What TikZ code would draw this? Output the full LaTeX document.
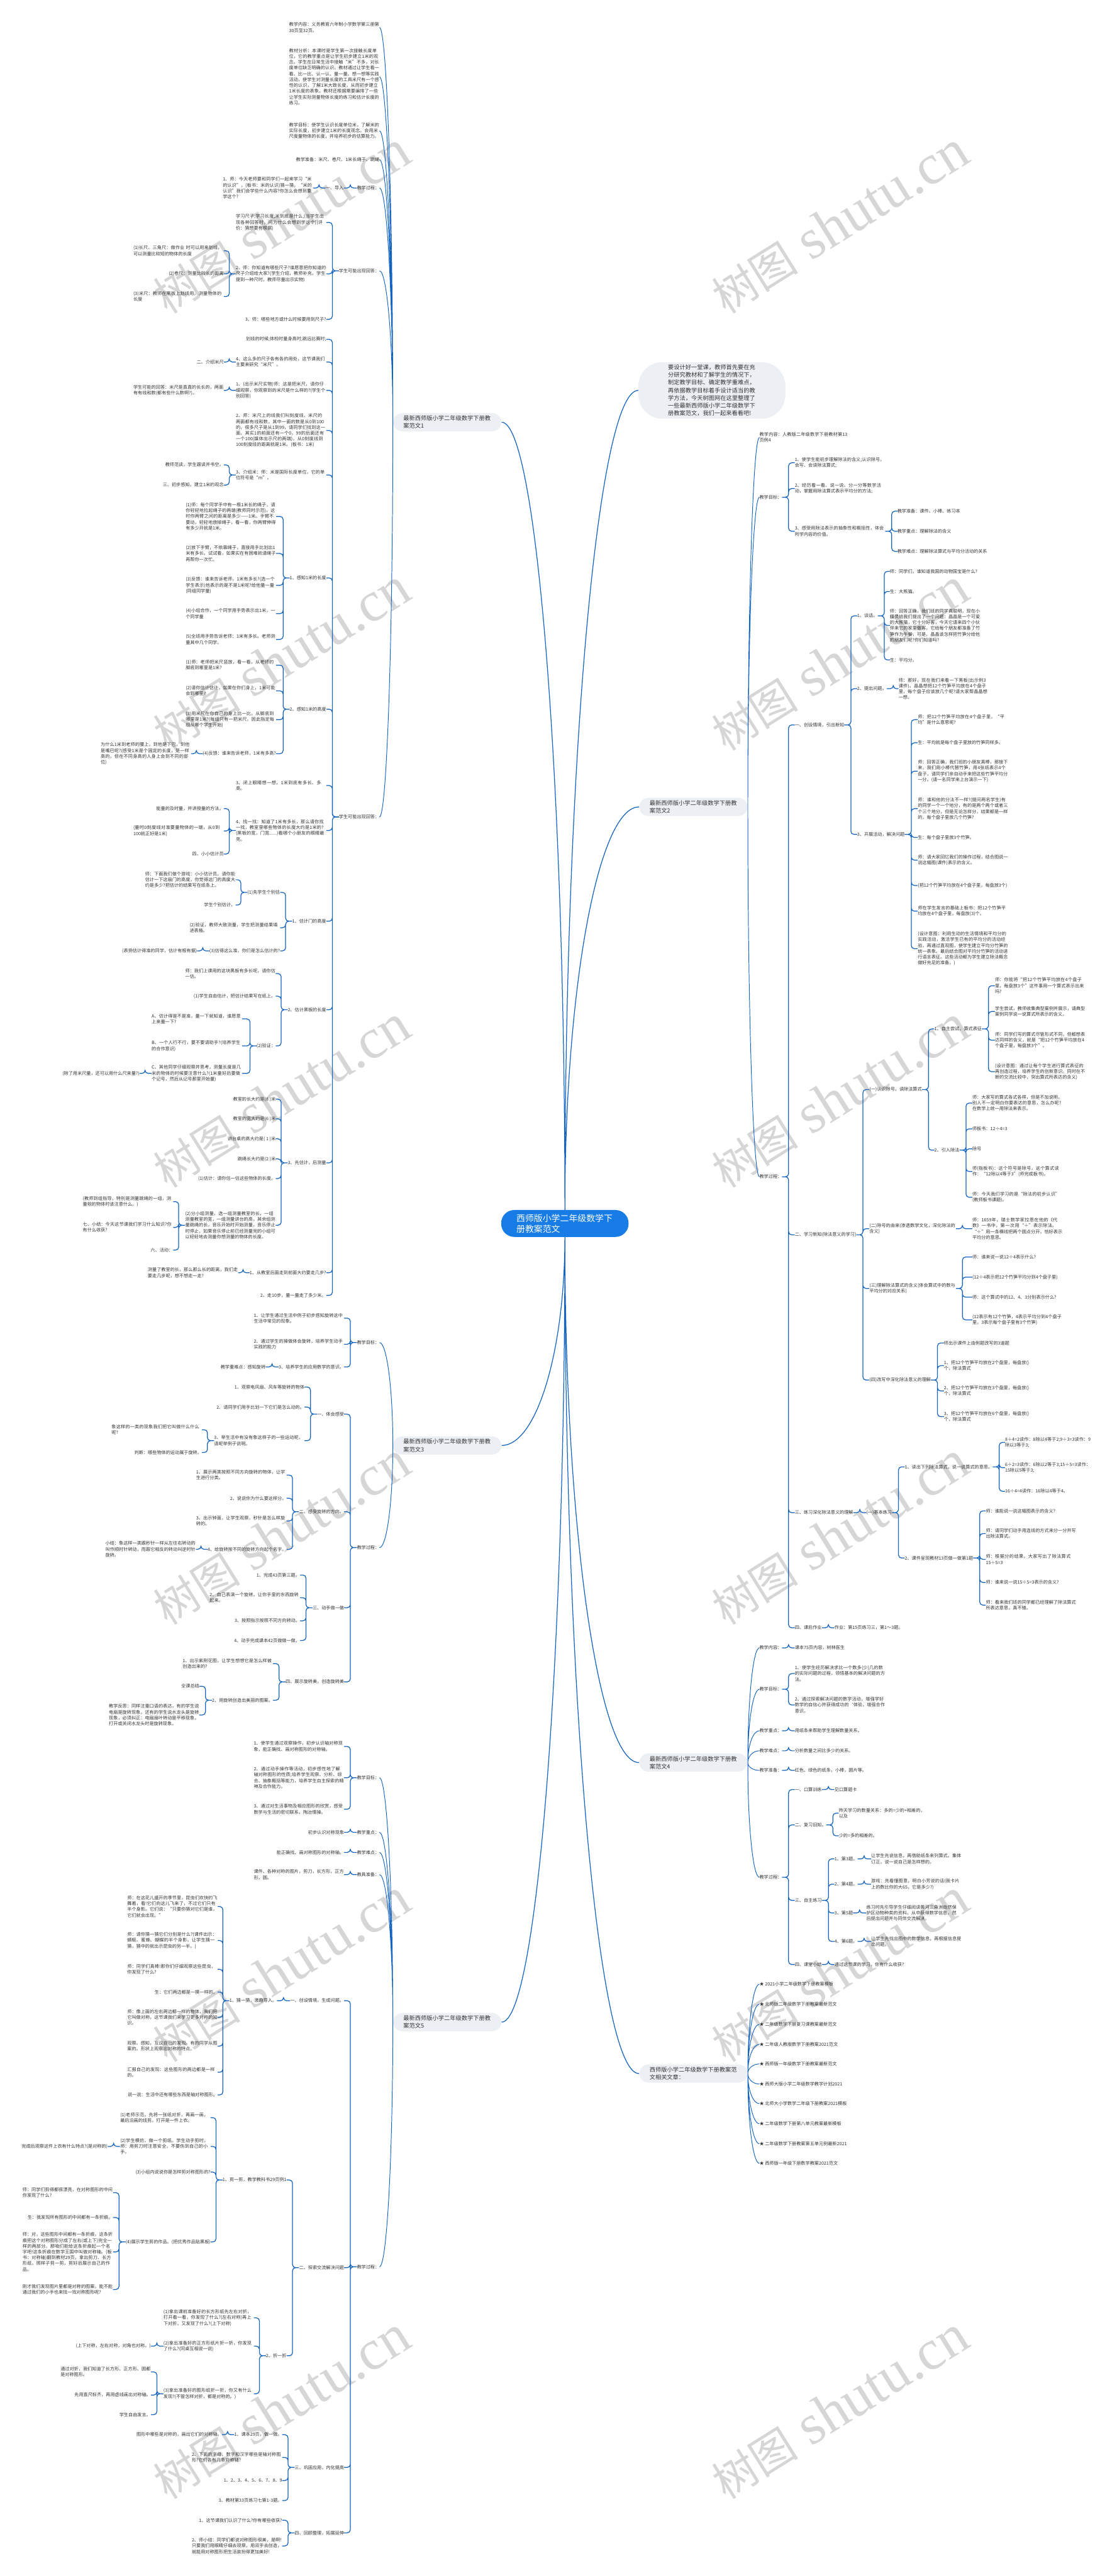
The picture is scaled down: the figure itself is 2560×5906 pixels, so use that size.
\documentclass[tikz,border=0pt]{standalone}
\usepackage{fontspec}
\setmainfont{Noto Sans CJK SC}
\newfontfamily\wmlatin{Liberation Serif}
\XeTeXlinebreaklocale "zh"
\XeTeXlinebreakskip = 0pt plus 1pt
\usetikzlibrary{calc}
\definecolor{lineblue}{RGB}{21,101,192}
\definecolor{rootblue}{RGB}{24,124,230}
\definecolor{topicgray}{RGB}{236,240,245}
\definecolor{ink}{RGB}{51,51,51}
\definecolor{wmgray}{RGB}{214,214,214}
\tikzset{
  root/.style={fill=rootblue, text=white, rounded corners=30pt, align=left, text width=222pt, inner xsep=35pt, inner ysep=9pt, font=\fontsize{20}{25}\selectfont},
  topic/.style={fill=topicgray, text=ink, rounded corners=22pt, align=left, text width=201pt, inner xsep=24pt, inner ysep=6pt, font=\fontsize{13.3}{17.5}\selectfont},
  intro/.style={topic, rounded corners=55pt, inner xsep=68pt, inner ysep=6pt},
  note/.style={text=ink, inner sep=0pt, font=\fontsize{10.3}{13.3}\selectfont},
  lnote/.style={note, anchor=east}, rnote/.style={note, anchor=west},
  lpara/.style={lnote, text width=207pt, align=left},
  rpara/.style={rnote, text width=207pt, align=left},
  limb/.style={draw=lineblue, line width=1.4pt, to path={.. controls ($(\tikztostart)!0.55!(\tikztostart|-\tikztotarget)$) and ($(\tikztotarget)!0.55!(\tikztostart|-\tikztotarget)$) .. (\tikztotarget)}},
  trunk/.style={limb, line width=1.8pt},
  lbr/.style={draw=lineblue, line width=1.8pt, rounded corners=7pt, to path={-- ($(\tikztostart)+(-15,0)$) |- (\tikztotarget)}},
  rbr/.style={draw=lineblue, line width=1.8pt, rounded corners=7pt, to path={-- ($(\tikztostart)+(15,0)$) |- (\tikztotarget)}},
  wmark/.style={text=wmgray, rotate=32, inner sep=0pt},
}
\newcommand{\wmtext}{{\fontsize{100}{100}\selectfont 树图}\hspace{30pt}{\wmlatin\fontsize{130}{130}\selectfont shutu.cn}}

\begin{document}
\begin{tikzpicture}[x=1pt, y=-1pt]
    \useasboundingbox (0,0) rectangle (2560,5906);
    \fill[white] (0,0) rectangle (2560,5906);
    \node[wmark] (wm1) at (645,510) {\wmtext};
    \node[wmark] (wm2) at (1925,510) {\wmtext};
    \node[wmark] (wm3) at (645,1512) {\wmtext};
    \node[wmark] (wm4) at (1925,1512) {\wmtext};
    \node[wmark] (wm5) at (645,2514) {\wmtext};
    \node[wmark] (wm6) at (1925,2514) {\wmtext};
    \node[wmark] (wm7) at (645,3516) {\wmtext};
    \node[wmark] (wm8) at (1925,3516) {\wmtext};
    \node[wmark] (wm9) at (645,4518) {\wmtext};
    \node[wmark] (wm10) at (1925,4518) {\wmtext};
    \node[wmark] (wm11) at (645,5520) {\wmtext};
    \node[wmark] (wm12) at (1925,5520) {\wmtext};

    \node[root] (root) at (1295,2805) {西师版小学二年级数学下册教案范文};
    \node[intro] (intro) at (1632,895) {要设计好一堂课，教师首先要在充分研究教材和了解学生的情况下，制定教学目标、确定教学重难点，再依据教学目标着手设计适当的教学方法，今天树图网在这里整理了一些最新西师版小学二年级数学下册教案范文，我们一起来看看吧!};
    \node[topic, anchor=east] (f1) at (1150,968) {最新西师版小学二年级数学下册教案范文1};
    \node[topic, anchor=west] (f2) at (1465,1850) {最新西师版小学二年级数学下册教案范文2};
    \node[topic, anchor=east] (f3) at (1150,3314) {最新西师版小学二年级数学下册教案范文3};
    \node[topic, anchor=west] (f4) at (1465,4041) {最新西师版小学二年级数学下册教案范文4};
    \node[topic, anchor=east] (f5) at (1150,4636) {最新西师版小学二年级数学下册教案范文5};
    \node[topic, anchor=west] (rel) at (1465,4754) {西师版小学二年级数学下册教案范文相关文章：};

    \node[lpara] (f1a) at (870,63) {教学内容：义务教育六年制小学数学第三册第30页至32页。};
    \node[lpara] (f1b) at (870,176) {教材分析：本课时是学生第一次接触长度单位，它的教学重点是让学生初步建立1米的观念。学生在日常生活中接触“米”不多，对长度单位缺乏明确的认识。教材通过让学生看一看、比一比、认一认、量一量、想一想等实践活动，使学生对测量长度的工具米尺有一个感性的认识，了解1米大致长度，从而初步建立1米长度的表象。教材还根据需要编排了一些让学生实际测量物体长度的练习和估计长度的练习。};
    \node[lpara] (f1c) at (870,300) {教学目标：使学生认识长度单位米，了解米的实际长度，初步建立1米的长度观念。会用米尺度量物体的长度，并培养初步的估算能力。};
    \node[lnote] (f1d) at (870,366) {教学准备：米尺、卷尺、1米长绳子、跳绳};
    \node[lnote] (f1e) at (870,431) {教学过程：};
    \node[lnote] (f1e1) at (788,431) {一、导入};
    \node[lpara] (f1e1a) at (718,431) {1、师：今天老师要和同学们一起来学习“米的认识”，(板书：米的认识)猜一猜，“米的认识”我们会学些什么内容?你怎么会想到要学这个?};
    \node[lnote] (f1f) at (870,621) {学生可能出现回答：};
    \node[lpara] (f1f1) at (748,510) {学习尺子;学习长度;米到底是什么;(当学生出现各种回答时，问为什么会想到学这个)(评价：猜想要有根据)};
    \node[lpara] (f1f2) at (748,628) {2、师：你知道有哪些尺子?谁愿意把你知道的尺子介绍给大家?(学生介绍，教师补充，学生提到一种尺时，教师尽量出示实物)};
    \node[lpara] (f1f2a) at (513,575) {(1)长尺、三角尺：做作业 时可以用来划线，可以测量比较短的物体的长度};
    \node[lnote] (f1f2b) at (513,628) {(2)卷尺：测量比较长的距离};
    \node[lpara] (f1f2c) at (513,680) {(3)米尺：教师在黑板上划线用，测量物体的长度};
    \node[lnote] (f1f3) at (748,732) {3、师：哪些地方或什么时候要用到尺子?};
    \node[lnote] (f1g) at (870,1873) {学生可能出现回答：};
    \node[lnote] (f1g1) at (748,778) {划线的时候;体检时量身高时;跳远比赛时;};
    \node[lpara] (f1g2) at (748,830) {4、这么多的尺子各有各的用处，这节课我们主要来研究“米尺”。};
    \node[lnote] (f1g2a) at (513,830) {二、介绍米尺};
    \node[lpara] (f1g3) at (748,895) {1、(出示米尺实物)师：这是把米尺，请你仔细观察，你观察到的米尺是什么样的?(学生个别回答)};
    \node[lpara] (f1g3a) at (513,895) {学生可能的回答：米尺是直直的长长的，两面有有线和数(都有些什么数啊?)。};
    \node[lpara] (f1g4) at (748,987) {2、师：米尺上的线我们叫刻度线，米尺的两面都有线和数，其中一面的数是从0到100的，很多尺子是从1到99，请同学们找到这一面，其实1的前面还有一个0，99的后面还有一个100(媒体出示尺的两端)，从0刻度线到100刻度线的距离就是1米。(板书：1米)};
    \node[lpara] (f1g5) at (748,1089) {3、介绍米：师：米是国际长度单位，它的单位符号是“m”。};
    \node[lnote] (f1g5a) at (513,1066) {教师范读，学生跟读并书空。};
    \node[lnote] (f1g5b) at (513,1112) {三、初步感知，建立1米的观念};
    \node[lnote] (f1g6) at (748,1325) {1、感知1米的长度};
    \node[lpara] (f1g6a) at (633,1184) {(1)师：每个同学手中有一根1米长的绳子，请你轻轻地拉起绳子的两端(教师同时示范)，这时你两臂之间的距离是多少——1米。手臂不要动，轻轻地放掉绳子，看一看，你两臂伸得有多少开就是1米。};
    \node[lpara] (f1g6b) at (633,1269) {(2)放下手臂，不依靠绳子，直接用手比划出1米有多长。试试看，如果实在有困难就请绳子再帮你一次忙。};
    \node[lpara] (f1g6c) at (633,1342) {(3)反馈：谁来告诉老师，1米有多长?(选一个学生表示)他表示的是不是1米呢?给他量一量(同组同学量)};
    \node[lpara] (f1g6d) at (633,1407) {(4)小组合作，一个同学用手势表示出1米，一个同学量};
    \node[lpara] (f1g6e) at (633,1466) {(5)全班用手势告诉老师：1米有多长。老师测量其中几个同学。};
    \node[lnote] (f1g7) at (748,1626) {2、感知1米的高度};
    \node[lpara] (f1g7a) at (633,1525) {(1)师：老师把米尺竖放，看一看，从老师的脚底到哪里是1米?};
    \node[lpara] (f1g7b) at (633,1584) {(2)请你估计估计，如果在你们身上，1米可能会到哪里?};
    \node[lpara] (f1g7c) at (633,1650) {(3)用米尺在你自己的身上比一比，从脚底到哪里是1米?(每组只有一把米尺，因此指定每组从哪个学生开始)};
    \node[lnote] (f1g7d) at (633,1728) {(4)反馈：谁来告诉老师，1米有多高?};
    \node[lpara] (f1g7d1) at (438,1728) {为什么1米到老师的腰上，到他是下巴，到他是嘴巴呢?(感受1米是个固定的长度，是一样高的，但在不同身高的人身上会到不同的部位)};
    \node[lpara] (f1g8) at (748,1801) {3、闭上眼睛想一想，1米到底有多长、多高。};
    \node[lpara] (f1g9) at (748,1904) {4、找一找：知道了1米有多长，那么请你找一找，教室里哪些物体的长度大约是1米的?(黑板的宽，门宽......)看哪个小朋友的眼睛最亮。};
    \node[lnote] (f1g9a) at (513,1854) {能量的及时量，并讲授量的方法。};
    \node[lpara] (f1g9b) at (513,1905) {(量时0刻度线对准要量物体的一端，从0到100就正好是1米)};
    \node[lnote] (f1g9c) at (513,1958) {四、小小估计员};
    \node[lnote] (f1g10) at (748,2112) {1、估计门的高度};
    \node[lnote] (f1g10a) at (642,2046) {(1)先学生个别估};
    \node[lpara] (f1g10a1) at (540,2017) {师：下面我们做个游戏：小小估计员。请你能估计一下这扇门的高度，你觉得这门的高度大约是多少?把估计的结果写在纸条上。};
    \node[lnote] (f1g10a2) at (540,2075) {学生个别估计。};
    \node[lpara] (f1g10b) at (642,2127) {(2)验证，教师大致测量，学生把测量结果填进表格。};
    \node[lnote] (f1g10c) at (642,2180) {(3)估得这么准，你们是怎么估计的?};
    \node[lnote] (f1g10c1) at (452,2180) {(表扬估计得准的同学，估计有根有据)};
    \node[lnote] (f1g11) at (748,2315) {2、估计黑板的长度};
    \node[lpara] (f1g11a) at (632,2232) {师：我们上课用的这块黑板有多长呢，请你估一估。};
    \node[lnote] (f1g11b) at (632,2284) {(1)学生自由估计，把估计结果写在纸上。};
    \node[lnote] (f1g11c) at (632,2398) {(2)验证：};
    \node[lpara] (f1g11c1) at (555,2336) {A、估计得是不是准，量一下就知道，谁愿意上来量一下?};
    \node[lpara] (f1g11c2) at (555,2398) {B、一个人行不行，要不要请助手?(培养学生的合作意识)};
    \node[lpara] (f1g11c3) at (555,2461) {C、其他同学仔细观察并思考，测量长度是几米的物体的时候要注意什么?(1米量好后要做个记号，然后从记号那里开始量)};
    \node[lnote] (f1g11c3a) at (320,2461) {(除了用米尺量，还可以用什么尺来量?)};
    \node[lnote] (f1g12) at (748,2666) {3、先估计，后测量};
    \node[lnote] (f1g12a) at (632,2520) {教室的长大约是(8 )米};
    \node[lnote] (f1g12b) at (632,2565) {教室的宽大约是(6 )米};
    \node[lnote] (f1g12c) at (632,2611) {讲台桌的高大约是( 1 )米};
    \node[lnote] (f1g12d) at (632,2657) {跳绳长大约是(2 )米};
    \node[lnote] (f1g12e) at (632,2702) {(1)估计：请你估一估这些物体的长度。};
    \node[lpara] (f1g12f) at (632,2809) {(2)分小组测量，选一组测量教室的长，一组测量教室的宽，一组测量讲台的高，其余组测量跳绳的长，音乐开始时开始测量，音乐停止时停止，如果音乐停止前已经测量完的小组可以轻轻地去测量你想测量的物体的长度。};
    \node[lpara] (f1g12f1) at (397,2755) {(教师到组指导，特别是测量跳绳的一组，测量软的物体时该注意什么。)};
    \node[lpara] (f1g12f2) at (397,2814) {七、小结：今天这节课我们学习什么知识?你有什么收获?};
    \node[lnote] (f1g12f3) at (397,2866) {六、活动：};
    \node[lnote] (f1g13) at (748,2918) {1、从教室后面走到前面大约要走几步?};
    \node[lpara] (f1g13a) at (546,2918) {测量了教室的长，那么那么长的距离，我们走要走几步呢，想不想走一走?};
    \node[lnote] (f1g14) at (748,2970) {2、走10步，量一量走了多少米。};

    \node[lnote] (f3a) at (870,3078) {教学目标：};
    \node[lpara] (f3a1) at (789,3022) {1、让学生通过生活中例子初步感知旋转这中生活中常见的现象。};
    \node[lpara] (f3a2) at (789,3082) {2、通过学生的操做体会旋转，培养学生动手实践的能力};
    \node[lnote] (f3a3) at (789,3134) {3、培养学生的应用数学的意识。};
    \node[lnote] (f3a3a) at (609,3134) {教学重难点：感知旋转};
    \node[lnote] (f3b) at (870,3548) {教学过程：};
    \node[lnote] (f3b1) at (789,3242) {一、体会感受};
    \node[lnote] (f3b1a) at (698,3180) {1、观察电风扇、风车等旋转的物体};
    \node[lnote] (f3b1b) at (698,3226) {2、请同学们用手比划一下它们是怎么动的。};
    \node[lpara] (f3b1c) at (698,3303) {3、举生活中有没有象这样子的一些运动呢，请呢举例子说明。};
    \node[lpara] (f3b1c1) at (463,3278) {象这样的一类的现象我们把它叫做什么什么呢?};
    \node[lnote] (f3b1c2) at (463,3330) {判断：哪些物体的运动属于旋转。};
    \node[lnote] (f3b2) at (789,3466) {二、感受旋转的方向。};
    \node[lpara] (f3b2a) at (657,3382) {1、展示两类按照不同方向旋转的物体，让学生进行分类。};
    \node[lnote] (f3b2b) at (657,3435) {2、说说你为什么要这样分。};
    \node[lpara] (f3b2c) at (657,3487) {3、出示钟面，让学生观察，秒针是怎么样旋转的。};
    \node[lnote] (f3b2d) at (657,3552) {4、给旋转按不同的旋转方向起个名字。};
    \node[lpara] (f3b2d1) at (449,3552) {小结：象这样一类跟秒针一样从左往右转动的叫作顺时针转动，而跟它相反的转动叫逆时针旋转。};
    \node[lnote] (f3b3) at (789,3686) {三、动手做一做};
    \node[lnote] (f3b3a) at (688,3611) {1、完成43页第三题。};
    \node[lpara] (f3b3b) at (688,3663) {2、自己表演一个旋转。让你手里的东西旋转起来。};
    \node[lnote] (f3b3c) at (688,3716) {3、按照指示按照不同方向转动。};
    \node[lnote] (f3b3d) at (688,3761) {4、动手完成课本42页做做一做。};
    \node[lnote] (f3b4) at (789,3856) {四、展示旋转美，创造旋转美};
    \node[lpara] (f3b4a) at (626,3814) {1、出示紫荆花图，让学生想想它是怎么样被创造出来的?};
    \node[lnote] (f3b4b) at (626,3898) {2、用旋转创造出美丽的图案。};
    \node[lnote] (f3b4b1) at (457,3866) {全课总结};
    \node[lpara] (f3b4b2) at (457,3932) {教学反思：同样注重口语的表达，有的学生说电扇是旋转现象，还有的学生说水龙头是旋转现象，必须纠正：电扇扇叶转动是平移现象，打开或关闭水龙头时是旋转现象。};

    \node[lnote] (f5a) at (870,4076) {教学目标：};
    \node[lpara] (f5a1) at (789,4004) {1、使学生通过观察操作，初步认识轴对称现象，能正确找、画对称图形的对称轴。};
    \node[lpara] (f5a2) at (789,4076) {2、通过动手操作等活动，初步感性地了解轴对称图形的性质;培养学生观察、分析、综合、抽象概括等能力，培养学生自主探索的精神及合作能力。};
    \node[lpara] (f5a3) at (789,4148) {3、通过对生活事物及相应图形的欣赏，感受数学与生活的密切联系，陶冶情操。};
    \node[lnote] (f5b) at (870,4201) {教学重点：};
    \node[lnote] (f5b1) at (789,4201) {初步认识对称现象};
    \node[lnote] (f5c) at (870,4247) {教学难点：};
    \node[lnote] (f5c1) at (789,4247) {能正确找、画对称图形的对称轴。};
    \node[lnote] (f5d) at (870,4298) {教具准备：};
    \node[lpara] (f5d1) at (789,4298) {课件、各种对称的图片，剪刀，长方形，正方形，圆。};
    \node[lnote] (f5e) at (870,5197) {教学过程：};
    \node[lnote] (f5e1) at (789,4587) {一、创设情境，生成问题。};
    \node[lnote] (f5e1a) at (635,4587) {1、猜一猜，激趣导入。};
    \node[lpara] (f5e1a1) at (499,4371) {师：在这花儿盛开的季节里，昆虫们欢快的飞舞着，看!它们向这儿飞来了，不过它们只有半个身影。它们说：“只要你猜对它们是谁，它们就会出现。”};
    \node[lpara] (f5e1a2) at (499,4449) {师：请你猜一猜它们分别是什么?(课件出示：蜻蜓、蜜蜂、蝴蝶的半个身影，让学生猜一猜，猜中的就出示昆虫的另一半。)};
    \node[lpara] (f5e1a3) at (499,4515) {师：同学们真棒!那你们仔细观察这些昆虫，你发现了什么?};
    \node[lnote] (f5e1a4) at (499,4567) {生：它们两边都是一摸一样的。};
    \node[lpara] (f5e1a5) at (499,4625) {师：像上面的左右两边都一样的物体，我们把它叫做对称，这节课我们来学习更多对称的知识。};
    \node[lpara] (f5e1a6) at (499,4691) {观察、感知，互议自己的发现。有的同学从图案的。形状上观察出对称的特点。};
    \node[lpara] (f5e1a7) at (499,4751) {汇报自己的发现：这些图形的两边都是一样的。};
    \node[lnote] (f5e1a8) at (499,4803) {说一说：生活中还有哪些东西是轴对称图形。};
    \node[lnote] (f5e2) at (789,5199) {二、探索交流解决问题};
    \node[lnote] (f5e2a) at (657,4998) {1、剪一剪，教学教科书29页例1};
    \node[lpara] (f5e2a1) at (483,4855) {(1)老师示范，先将一张纸对折，再画一画，最后沿画的线剪。打开是一件上衣。};
    \node[lpara] (f5e2a2) at (483,4921) {(2)学生模仿，做一个剪纸。学生动手剪时，师：用剪刀时注意安全，不要伤到自己的小手。};
    \node[lnote] (f5e2a2a) at (247,4921) {完成后观察这件上衣有什么特点?(是对称的)};
    \node[lnote] (f5e2a3) at (483,4980) {(3)小组内说说你是怎样剪对称图形的?};
    \node[lnote] (f5e2a4) at (483,5140) {(4)展示学生剪的作品。(把优秀作品贴黑板)};
    \node[lpara] (f5e2a4a) at (259,5027) {师：同学们剪得都很漂亮，在对称图形的中间你发现了什么?};
    \node[lnote] (f5e2a4b) at (259,5084) {生：我发现所有图形的中间都有一条折痕。};
    \node[lpara] (f5e2a4c) at (259,5163) {师：对，这些图形中间都有一条折痕，这条折痕把这个对称图形分成了左右(或上下)完全一样的两部分。那咱们能给这条折痕起一个名字吧!这条折痕在数学王国中叫做对称轴。(板书：对称轴)翻到教材29页，拿出剪刀、长方形纸，照样子剪一剪，剪好后展示自己的作品。};
    \node[lpara] (f5e2a4d) at (259,5249) {刚才我们发现图片里都是对称的图案，能不能通过我们的小手也来找一找对称图形呢?};
    \node[lnote] (f5e2b) at (657,5401) {2、折一折};
    \node[lpara] (f5e2b1) at (582,5314) {(1)拿出课前准备好的长方形纸先左右对折，打开看一看，你发现了什么?(左右对称)再上下对折，又发现了什么?(上下对称)};
    \node[lpara] (f5e2b2) at (582,5379) {(2)拿出准备好的正方形纸片折一折，你发现了什么?(同桌互相说一说)};
    \node[lnote] (f5e2b2a) at (346,5379) {(上下对称，左右对称，对角也对称。)};
    \node[lpara] (f5e2b3) at (582,5488) {(3)拿出准备好的图形纸折一折，你又有什么发现?(不管怎样对折，都是对称的。)};
    \node[lpara] (f5e2b3a) at (346,5438) {通过对折，我们知道了长方形、正方形、圆都是对称图形。};
    \node[lnote] (f5e2b3b) at (346,5491) {先用直尺标齐，再用虚线画出对称轴。};
    \node[lnote] (f5e2b3c) at (346,5536) {学生自由发言。};
    \node[lnote] (f5e3) at (789,5657) {三、巩固应用，内化提高};
    \node[lnote] (f5e3a) at (647,5582) {1、课本29页，做一做。};
    \node[lnote] (f5e3a1) at (509,5582) {图形中哪些是对称的，画出它们的对称轴。};
    \node[lpara] (f5e3b) at (647,5634) {2、下面的字母、数字和汉字哪些是轴对称图形?它们各有几条对称轴?};
    \node[lnote] (f5e3c) at (647,5687) {1、2、3、4、5、6、7、8、9};
    \node[lnote] (f5e3d) at (647,5733) {3、教材第33页练习七第1-3题。};
    \node[lnote] (f5e4) at (789,5807) {四、回顾整理，拓展延伸};
    \node[lnote] (f5e4a) at (647,5778) {1、这节课我们认识了什么?你有哪些收获?};
    \node[lpara] (f5e4b) at (647,5837) {2、师小结：同学们都说对称图形很美，是啊!只要我们用眼睛仔细去观察，用双手去创造，就能用对称图形把生活装扮得更加美好!};

    \node[rpara] (f2a) at (1741,1003) {教学内容：人教版二年级数学下册教材第13页例4};
    \node[rnote] (f2b) at (1741,1140) {教学目标：};
    \node[rpara] (f2b1) at (1822,1061) {1、使学生能初步理解除法的含义;认识除号，会写、会读除法算式;};
    \node[rpara] (f2b2) at (1822,1120) {2、经历看一看、说一说、分一分等数学活动，掌握用除法算式表示平均分的方法;};
    \node[rpara] (f2b3) at (1822,1218) {3、感受用除法表示的抽象性和概括性，体会所学内容的价值。};
    \node[rnote] (f2b3a) at (2057,1172) {教学准备：课件、小棒、练习本};
    \node[rnote] (f2b3b) at (2057,1218) {教学重点：理解除法的含义};
    \node[rnote] (f2b3c) at (2057,1264) {教学难点：理解除法算式与平均分活动的关系};
    \node[rnote] (f2c) at (1741,2698) {教学过程：};
    \node[rnote] (f2c1) at (1822,1662) {一、创设情境，引出新知};
    \node[rnote] (f2c1a) at (1965,1412) {1、谈话。};
    \node[rnote] (f2c1a1) at (2040,1310) {师：同学们，谁知道我国的动物国宝是什么?};
    \node[rnote] (f2c1a2) at (2040,1356) {生：大熊猫。};
    \node[rpara] (f2c1a3) at (2040,1434) {师：回答正确，我们班的同学真聪明，现在小精灵给我们提出了一个问题：晶晶是一个可爱的大熊猫，它十分好客，今天它请来四个小伙伴来它的家里做客，它给每个朋友都准备了竹笋作为午餐，可是，晶晶该怎样把竹笋分给他的朋友们呢?你们知道吗?};
    \node[rnote] (f2c1a4) at (2040,1513) {生：平均分。};
    \node[rnote] (f2c1b) at (1965,1579) {2、提出问题。};
    \node[rpara] (f2c1b1) at (2060,1579) {师：那好，现在我们来看一下黑板(出示例3课件)，晶晶想把12个竹笋平均放在4个盘子里，每个盘子应该放几个呢?请大家帮晶晶想一想。};
    \node[rnote] (f2c1c) at (1965,1913) {3、开展活动，解决问题};
    \node[rpara] (f2c1c1) at (2104,1650) {师：把12个竹笋平均放在4个盘子里，“平均”是什么意思呢?};
    \node[rnote] (f2c1c2) at (2104,1703) {生：平均就是每个盘子里放的竹笋同样多。};
    \node[rpara] (f2c1c3) at (2104,1768) {师：回答正确，我们班的小朋友真棒，那接下来，我们用小棒代替竹笋，用4张纸表示4个盘子，请同学们亲自动手来把这些竹笋平均分一分。(请一名同学来上台演示一下)};
    \node[rpara] (f2c1c4) at (2104,1854) {师：谁和他的分法不一样?(提问两名学生)有的同学一个一个地分，有的是两个两个或者三个三个地分，但是无论怎样分，结果都是一样的，每个盘子里放几个竹笋?};
    \node[rnote] (f2c1c5) at (2104,1920) {生：每个盘子里放3个竹笋。};
    \node[rpara] (f2c1c6) at (2104,1972) {师：请大家回忆我们的操作过程，结合图说一说这幅图(课件)表示的含义。};
    \node[rpara] (f2c1c7) at (2104,2030) {(把12个竹笋平均放在4个盘子里，每盘放3个)};
    \node[rpara] (f2c1c8) at (2104,2089) {师在学生发言的基础上板书：把12个竹笋平均放在4个盘子里，每盘放(3)个。};
    \node[rpara] (f2c1c9) at (2104,2175) {(设计意图：利用生动的生活情境和平均分的实践活动，激活学生已有的平均分的活动经验，再通过直观图，使学生建立平均分竹笋的统一表象。最后结合图对平均分竹笋的活动进行语言表征。这些活动都为学生建立除法概念做好充足的准备。)};
    \node[rnote] (f2c2) at (1822,2831) {二、学习新知(除法意义的学习)};
    \node[rnote] (f2c2a) at (1993,2498) {(一)认识除号，读除法算式};
    \node[rnote] (f2c2a1) at (2142,2359) {1、自主尝试，算式表征};
    \node[rpara] (f2c2a1a) at (2281,2260) {师：你能将“把12个竹笋平均放在4个盘子里，每盘放3个”这件事用一个算式表示出来吗?};
    \node[rpara] (f2c2a1b) at (2281,2319) {学生尝试，教师收集典型案例并展示，请典型案例同学说一说算式所表示的含义。};
    \node[rpara] (f2c2a1c) at (2281,2385) {师：同学们写的算式尽管形式不同，但都想表达同样的含义，就是“把12个竹笋平均放在4个盘子里，每盘放3个”。};
    \node[rpara] (f2c2a1d) at (2281,2457) {(设计意图：通过让每个学生进行算式表征的再创造过程，培养学生的创新意识。同时在不断的交流比较中，突出算式所表达的含义)};
    \node[rnote] (f2c2a2) at (2142,2637) {2、引入除法};
    \node[rpara] (f2c2a2a) at (2229,2529) {师：大家写的算式各式各样，但是不加说明，别人不一定明白你要表达的意思，怎么办呢?在数学上统一用除法来表示。};
    \node[rnote] (f2c2a2b) at (2229,2588) {师板书：12÷4=3};
    \node[rnote] (f2c2a2c) at (2229,2634) {除号};
    \node[rpara] (f2c2a2d) at (2229,2686) {师(指板书)：这个符号是除号，这个算式读作：“12除以4等于3”(师完成板书)。};
    \node[rpara] (f2c2a2e) at (2229,2745) {师：今天我们学习的是“除法的初步认识”(教师板书课题)。};
    \node[rpara, text width=198pt] (f2c2b) at (1993,2817) {(二)除号的由来(渗透数学文化，深化除法的含义)};
    \node[rpara] (f2c2b1) at (2229,2817) {师：1659年，瑞士数学家拉恩在他的《代数》一书中，第一次用“÷”表示除法。“÷”用一条横线把两个圆点分开，恰好表示平均分的意思。};
    \node[rpara, text width=198pt] (f2c2c) at (1993,2954) {(三)理解除法算式的含义(体会算式中的数与平均分的对应关系)};
    \node[rnote] (f2c2c1) at (2229,2882) {师：谁来说一说12÷4表示什么?};
    \node[rnote] (f2c2c2) at (2229,2928) {(12÷4表示把12个竹笋平均分到4个盘子里)};
    \node[rnote] (f2c2c3) at (2229,2974) {师：这个算式中的12、4、3分别表示什么?};
    \node[rpara] (f2c2c4) at (2229,3026) {(12表示有12个竹笋，4表示平均分到4个盘子里，3表示每个盘子里有3个竹笋)};
    \node[rnote] (f2c2d) at (1993,3164) {(四)改写中深化除法意义的理解};
    \node[rnote] (f2c2d1) at (2164,3079) {师出示课件上由例题改写的3道题};
    \node[rpara, text width=196pt] (f2c2d2) at (2164,3131) {1、把12个竹笋平均放在2个盘里，每盘放()个，除法算式};
    \node[rpara, text width=196pt] (f2c2d3) at (2164,3189) {2、把12个竹笋平均放在3个盘里，每盘放()个，除法算式};
    \node[rpara, text width=196pt] (f2c2d4) at (2164,3248) {3、把12个竹笋平均放在6个盘里，每盘放()个，除法算式};
    \node[rnote] (f2c3) at (1822,3468) {三、练习深化除法意义的理解};
    \node[rnote] (f2c3a) at (1986,3468) {(一)基本练习};
    \node[rnote] (f2c3a1) at (2074,3363) {1、读出下列除法算式，说一说算式的意思。};
    \node[rpara, text width=198pt] (f2c3a1a) at (2304,3307) {8÷4=2读作：8除以4等于2;9÷3=3读作：9除以3等于3;};
    \node[rpara, text width=198pt] (f2c3a1b) at (2304,3365) {6÷2=3读作：6除以2等于3;15÷5=3读作：15除以5等于3;};
    \node[rnote] (f2c3a1c) at (2304,3419) {16÷4=4读作：16除以4等于4。};
    \node[rnote] (f2c3a2) at (2074,3572) {2、课件呈现教材13页做一做第1题};
    \node[rnote] (f2c3a2a) at (2260,3464) {师：谁能说一说这幅图表示的含义?};
    \node[rpara] (f2c3a2b) at (2260,3516) {师：请同学们动手用连线的方式来分一分并写出除法算式。};
    \node[rpara] (f2c3a2c) at (2260,3575) {师：根据分的结果，大家写出了除法算式15÷5=3};
    \node[rnote] (f2c3a2d) at (2260,3628) {师：谁来说一说15÷5=3表示的含义?};
    \node[rpara] (f2c3a2e) at (2260,3680) {师：看来我们班的同学都已经理解了除法算式所表达意思，真不错。};
    \node[rnote] (f2c4) at (1822,3732) {四、课后作业};
    \node[rnote] (f2c4a) at (1913,3732) {作业：第15页练习三，第1～3题。};

    \node[rnote] (f4a) at (1741,3778) {教学内容：};
    \node[rnote] (f4a1) at (1822,3778) {课本75页内容，树林医生};
    \node[rnote] (f4b) at (1741,3873) {教学目标：};
    \node[rpara] (f4b1) at (1822,3837) {1、使学生经历解决求比一个数多(少)几的数的实际问题的过程，领悟基本的解决问题的方法。};
    \node[rpara] (f4b2) at (1822,3909) {2、通过探索解决问题的数学活动，增强学好数学的自信心并获得成功的`体验，增强合作意识。};
    \node[rnote] (f4c) at (1741,3968) {教学重点：};
    \node[rnote] (f4c1) at (1822,3968) {用纸条来帮助学生理解数量关系。};
    \node[rnote] (f4d) at (1741,4014) {教学难点：};
    \node[rnote] (f4d1) at (1822,4014) {分析数量之间比多少的关系。};
    \node[rnote] (f4e) at (1741,4059) {教学准备：};
    \node[rnote] (f4e1) at (1822,4059) {红色、绿色的纸条，小棒，圆片等。};
    \node[rnote] (f4f) at (1741,4304) {教学过程：};
    \node[rnote] (f4f1) at (1822,4103) {一、口算训练};
    \node[rnote] (f4f1a) at (1913,4103) {见口算题卡};
    \node[rnote] (f4f2) at (1822,4184) {二、复习旧知。};
    \node[rpara, text width=198pt] (f4f2a) at (1923,4157) {昨天学习的数量关系：多的=少的+相差的，以及};
    \node[rnote] (f4f2b) at (1923,4209) {少的=多的相差的。};
    \node[rnote] (f4f3) at (1822,4357) {三、自主练习};
    \node[rnote] (f4f3a) at (1913,4262) {1、第3题。};
    \node[rpara] (f4f3a1) at (1997,4262) {让学生先说信息，再借助纸条来列算式。集体订正，说一说自己是怎样想的。};
    \node[rnote] (f4f3b) at (1913,4320) {2、第4题。};
    \node[rpara] (f4f3b1) at (1997,4320) {游戏：先看懂图意，明白小芳说的话(我卡片上的数比你的大65，它是多少?)};
    \node[rnote] (f4f3c) at (1913,4386) {3、第5题};
    \node[rpara] (f4f3c1) at (1986,4386) {练习时先引导学生仔细阅读黄河三角洲自然保护区动物种类的资料，从中获得数学信息，然后提出问题并与同伴交流解决。};
    \node[rnote] (f4f3d) at (1913,4451) {4、第6题。};
    \node[rpara] (f4f3d1) at (1997,4451) {让学生先找出图中的数学信息，再根据信息提出问题。};
    \node[rnote] (f4f4) at (1822,4504) {四、课堂小结};
    \node[rnote] (f4f4a) at (1913,4504) {通过这节课的学习，你有什么收获?};

    \node[rnote] (rel1) at (1741,4549) {★ 2021小学二年级数学下册教案模板};
    \node[rnote] (rel2) at (1741,4595) {★ 北师版二年级数学下册教案最新范文};
    \node[rnote] (rel3) at (1741,4641) {★ 二年级数学下册复习课教案最新范文};
    \node[rnote] (rel4) at (1741,4687) {★ 二年级人教版数学下册教案2021范文};
    \node[rnote] (rel5) at (1741,4732) {★ 西师版一年级数学下册教案最新范文};
    \node[rnote] (rel6) at (1741,4778) {★ 西师大版小学二年级数学教学计划2021};
    \node[rnote] (rel7) at (1741,4823) {★ 北师大小学数学二年级下册教案2021模板};
    \node[rnote] (rel8) at (1741,4869) {★ 二年级数学下册第八单元教案最新模板};
    \node[rnote] (rel9) at (1741,4915) {★ 二年级数学下册教案第五单元例最新2021};
    \node[rnote] (rel10) at (1741,4960) {★ 西师版一年级下册数学教案2021范文};

    \draw[trunk] (root.north) to (f1.east) (root.north) to (intro.west) (root.north) to (f2.west);
    \draw[trunk] (root.south) to (f3.east) (root.south) to (f5.east) (root.south) to (f4.west) (root.south) to (rel.west);

    \draw[limb] (f1.west) to (f1a.east) (f1.west) to (f1b.east) (f1.west) to (f1c.east) (f1.west) to (f1d.east) (f1.west) to (f1e.east) (f1.west) to (f1f.east) (f1.west) to (f1g.east);
    \draw[limb] (f3.west) to (f3a.east) (f3.west) to (f3b.east);
    \draw[limb] (f5.west) to (f5a.east) (f5.west) to (f5b.east) (f5.west) to (f5c.east) (f5.west) to (f5d.east) (f5.west) to (f5e.east);
    \draw[limb] (f2.east) to (f2a.west) (f2.east) to (f2b.west) (f2.east) to (f2c.west);
    \draw[limb] (f4.east) to (f4a.west) (f4.east) to (f4b.west) (f4.east) to (f4c.west) (f4.east) to (f4d.west) (f4.east) to (f4e.west) (f4.east) to (f4f.west);
    \draw[limb] (rel.east) to (rel1.west) (rel.east) to (rel2.west) (rel.east) to (rel3.west) (rel.east) to (rel4.west) (rel.east) to (rel5.west) (rel.east) to (rel6.west) (rel.east) to (rel7.west) (rel.east) to (rel8.west) (rel.east) to (rel9.west) (rel.east) to (rel10.west);

    \draw[lbr] (f1e.west) to (f1e1.east) (f1e1.west) to (f1e1a.east);
    \draw[lbr] (f1f.west) to (f1f1.east) (f1f.west) to (f1f2.east) (f1f.west) to (f1f3.east);
    \draw[lbr] (f1f2.west) to (f1f2a.east) (f1f2.west) to (f1f2b.east) (f1f2.west) to (f1f2c.east);
    \draw[lbr] (f1g.west) to (f1g1.east) (f1g.west) to (f1g2.east) (f1g.west) to (f1g3.east) (f1g.west) to (f1g4.east) (f1g.west) to (f1g5.east) (f1g.west) to (f1g6.east) (f1g.west) to (f1g7.east);
    \draw[lbr] (f1g.west) to (f1g8.east) (f1g.west) to (f1g9.east) (f1g.west) to (f1g10.east) (f1g.west) to (f1g11.east) (f1g.west) to (f1g12.east) (f1g.west) to (f1g13.east) (f1g.west) to (f1g14.east);
    \draw[lbr] (f1g2.west) to (f1g2a.east) (f1g3.west) to (f1g3a.east) (f1g5.west) to (f1g5a.east) (f1g5.west) to (f1g5b.east);
    \draw[lbr] (f1g6.west) to (f1g6a.east) (f1g6.west) to (f1g6b.east) (f1g6.west) to (f1g6c.east) (f1g6.west) to (f1g6d.east) (f1g6.west) to (f1g6e.east);
    \draw[lbr] (f1g7.west) to (f1g7a.east) (f1g7.west) to (f1g7b.east) (f1g7.west) to (f1g7c.east) (f1g7.west) to (f1g7d.east) (f1g7d.west) to (f1g7d1.east);
    \draw[lbr] (f1g9.west) to (f1g9a.east) (f1g9.west) to (f1g9b.east) (f1g9.west) to (f1g9c.east);
    \draw[lbr] (f1g10.west) to (f1g10a.east) (f1g10.west) to (f1g10b.east) (f1g10.west) to (f1g10c.east) (f1g10a.west) to (f1g10a1.east) (f1g10a.west) to (f1g10a2.east) (f1g10c.west) to (f1g10c1.east);
    \draw[lbr] (f1g11.west) to (f1g11a.east) (f1g11.west) to (f1g11b.east) (f1g11.west) to (f1g11c.east) (f1g11c.west) to (f1g11c1.east) (f1g11c.west) to (f1g11c2.east) (f1g11c.west) to (f1g11c3.east) (f1g11c3.west) to (f1g11c3a.east);
    \draw[lbr] (f1g12.west) to (f1g12a.east) (f1g12.west) to (f1g12b.east) (f1g12.west) to (f1g12c.east) (f1g12.west) to (f1g12d.east) (f1g12.west) to (f1g12e.east) (f1g12.west) to (f1g12f.east);
    \draw[lbr] (f1g12f.west) to (f1g12f1.east) (f1g12f.west) to (f1g12f2.east) (f1g12f.west) to (f1g12f3.east) (f1g13.west) to (f1g13a.east);

    \draw[lbr] (f3a.west) to (f3a1.east) (f3a.west) to (f3a2.east) (f3a.west) to (f3a3.east) (f3a3.west) to (f3a3a.east);
    \draw[lbr] (f3b.west) to (f3b1.east) (f3b.west) to (f3b2.east) (f3b.west) to (f3b3.east) (f3b.west) to (f3b4.east);
    \draw[lbr] (f3b1.west) to (f3b1a.east) (f3b1.west) to (f3b1b.east) (f3b1.west) to (f3b1c.east) (f3b1c.west) to (f3b1c1.east) (f3b1c.west) to (f3b1c2.east);
    \draw[lbr] (f3b2.west) to (f3b2a.east) (f3b2.west) to (f3b2b.east) (f3b2.west) to (f3b2c.east) (f3b2.west) to (f3b2d.east) (f3b2d.west) to (f3b2d1.east);
    \draw[lbr] (f3b3.west) to (f3b3a.east) (f3b3.west) to (f3b3b.east) (f3b3.west) to (f3b3c.east) (f3b3.west) to (f3b3d.east);
    \draw[lbr] (f3b4.west) to (f3b4a.east) (f3b4.west) to (f3b4b.east) (f3b4b.west) to (f3b4b1.east) (f3b4b.west) to (f3b4b2.east);

    \draw[lbr] (f5a.west) to (f5a1.east) (f5a.west) to (f5a2.east) (f5a.west) to (f5a3.east) (f5b.west) to (f5b1.east) (f5c.west) to (f5c1.east) (f5d.west) to (f5d1.east);
    \draw[lbr] (f5e.west) to (f5e1.east) (f5e.west) to (f5e2.east) (f5e.west) to (f5e3.east) (f5e.west) to (f5e4.east) (f5e1.west) to (f5e1a.east);
    \draw[lbr] (f5e1a.west) to (f5e1a1.east) (f5e1a.west) to (f5e1a2.east) (f5e1a.west) to (f5e1a3.east) (f5e1a.west) to (f5e1a4.east) (f5e1a.west) to (f5e1a5.east) (f5e1a.west) to (f5e1a6.east) (f5e1a.west) to (f5e1a7.east) (f5e1a.west) to (f5e1a8.east);
    \draw[lbr] (f5e2.west) to (f5e2a.east) (f5e2.west) to (f5e2b.east);
    \draw[lbr] (f5e2a.west) to (f5e2a1.east) (f5e2a.west) to (f5e2a2.east) (f5e2a.west) to (f5e2a3.east) (f5e2a.west) to (f5e2a4.east) (f5e2a2.west) to (f5e2a2a.east);
    \draw[lbr] (f5e2a4.west) to (f5e2a4a.east) (f5e2a4.west) to (f5e2a4b.east) (f5e2a4.west) to (f5e2a4c.east) (f5e2a4.west) to (f5e2a4d.east);
    \draw[lbr] (f5e2b.west) to (f5e2b1.east) (f5e2b.west) to (f5e2b2.east) (f5e2b.west) to (f5e2b3.east) (f5e2b2.west) to (f5e2b2a.east);
    \draw[lbr] (f5e2b3.west) to (f5e2b3a.east) (f5e2b3.west) to (f5e2b3b.east) (f5e2b3.west) to (f5e2b3c.east);
    \draw[lbr] (f5e3.west) to (f5e3a.east) (f5e3.west) to (f5e3b.east) (f5e3.west) to (f5e3c.east) (f5e3.west) to (f5e3d.east) (f5e3a.west) to (f5e3a1.east);
    \draw[lbr] (f5e4.west) to (f5e4a.east) (f5e4.west) to (f5e4b.east);

    \draw[rbr] (f2b.east) to (f2b1.west) (f2b.east) to (f2b2.west) (f2b.east) to (f2b3.west) (f2b3.east) to (f2b3a.west) (f2b3.east) to (f2b3b.west) (f2b3.east) to (f2b3c.west);
    \draw[rbr] (f2c.east) to (f2c1.west) (f2c.east) to (f2c2.west) (f2c.east) to (f2c3.west) (f2c.east) to (f2c4.west);
    \draw[rbr] (f2c1.east) to (f2c1a.west) (f2c1.east) to (f2c1b.west) (f2c1.east) to (f2c1c.west) (f2c1b.east) to (f2c1b1.west);
    \draw[rbr] (f2c1a.east) to (f2c1a1.west) (f2c1a.east) to (f2c1a2.west) (f2c1a.east) to (f2c1a3.west) (f2c1a.east) to (f2c1a4.west);
    \draw[rbr] (f2c1c.east) to (f2c1c1.west) (f2c1c.east) to (f2c1c2.west) (f2c1c.east) to (f2c1c3.west) (f2c1c.east) to (f2c1c4.west) (f2c1c.east) to (f2c1c5.west) (f2c1c.east) to (f2c1c6.west) (f2c1c.east) to (f2c1c7.west) (f2c1c.east) to (f2c1c8.west) (f2c1c.east) to (f2c1c9.west);
    \draw[rbr] (f2c2.east) to (f2c2a.west) (f2c2.east) to (f2c2b.west) (f2c2.east) to (f2c2c.west) (f2c2.east) to (f2c2d.west);
    \draw[rbr] (f2c2a.east) to (f2c2a1.west) (f2c2a.east) to (f2c2a2.west);
    \draw[rbr] (f2c2a1.east) to (f2c2a1a.west) (f2c2a1.east) to (f2c2a1b.west) (f2c2a1.east) to (f2c2a1c.west) (f2c2a1.east) to (f2c2a1d.west);
    \draw[rbr] (f2c2a2.east) to (f2c2a2a.west) (f2c2a2.east) to (f2c2a2b.west) (f2c2a2.east) to (f2c2a2c.west) (f2c2a2.east) to (f2c2a2d.west) (f2c2a2.east) to (f2c2a2e.west);
    \draw[rbr] (f2c2b.east) to (f2c2b1.west) (f2c2c.east) to (f2c2c1.west) (f2c2c.east) to (f2c2c2.west) (f2c2c.east) to (f2c2c3.west) (f2c2c.east) to (f2c2c4.west);
    \draw[rbr] (f2c2d.east) to (f2c2d1.west) (f2c2d.east) to (f2c2d2.west) (f2c2d.east) to (f2c2d3.west) (f2c2d.east) to (f2c2d4.west);
    \draw[rbr] (f2c3.east) to (f2c3a.west) (f2c3a.east) to (f2c3a1.west) (f2c3a.east) to (f2c3a2.west) (f2c3a1.east) to (f2c3a1a.west) (f2c3a1.east) to (f2c3a1b.west) (f2c3a1.east) to (f2c3a1c.west);
    \draw[rbr] (f2c3a2.east) to (f2c3a2a.west) (f2c3a2.east) to (f2c3a2b.west) (f2c3a2.east) to (f2c3a2c.west) (f2c3a2.east) to (f2c3a2d.west) (f2c3a2.east) to (f2c3a2e.west) (f2c4.east) to (f2c4a.west);

    \draw[rbr] (f4a.east) to (f4a1.west) (f4b.east) to (f4b1.west) (f4b.east) to (f4b2.west) (f4c.east) to (f4c1.west) (f4d.east) to (f4d1.west) (f4e.east) to (f4e1.west);
    \draw[rbr] (f4f.east) to (f4f1.west) (f4f.east) to (f4f2.west) (f4f.east) to (f4f3.west) (f4f.east) to (f4f4.west) (f4f1.east) to (f4f1a.west) (f4f4.east) to (f4f4a.west);
    \draw[rbr] (f4f2.east) to (f4f2a.west) (f4f2.east) to (f4f2b.west);
    \draw[rbr] (f4f3.east) to (f4f3a.west) (f4f3.east) to (f4f3b.west) (f4f3.east) to (f4f3c.west) (f4f3.east) to (f4f3d.west);
    \draw[rbr] (f4f3a.east) to (f4f3a1.west) (f4f3b.east) to (f4f3b1.west) (f4f3c.east) to (f4f3c1.west) (f4f3d.east) to (f4f3d1.west);
  \end{tikzpicture}
\end{document}
